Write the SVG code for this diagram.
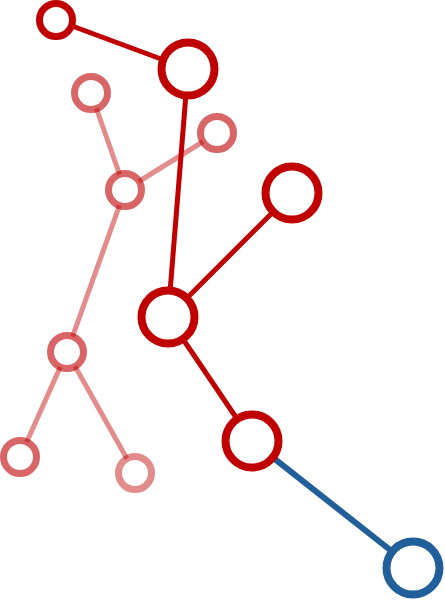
<svg xmlns="http://www.w3.org/2000/svg" width="445" height="600" viewBox="0 0 445 600">
<style>
.e{stroke-width:5;fill:none;stroke-linecap:butt}
.dk{stroke:#c00000}
.lt{stroke:#c00000;stroke-opacity:0.45}
.bl{stroke:#215f9a;stroke-width:6}
.n{fill:#fff}
.big{stroke-width:8}
.sm{stroke-width:7}
.nd{stroke:#c00000}
.nl{stroke:#c00000;stroke-opacity:0.6}
.nh{stroke:#c00000;stroke-opacity:0.45}
.nb{stroke:#215f9a}
</style>
<rect width="445" height="600" fill="#fff"/>
<g id="connectors">
<line class="e lt" x1="91" y1="93" x2="125" y2="190"/>
<line class="e lt" x1="125" y1="190" x2="217" y2="133"/>
<line class="e lt" x1="125" y1="190" x2="67" y2="352"/>
<line class="e lt" x1="67" y1="352" x2="20" y2="457"/>
<line class="e lt" x1="67" y1="352" x2="135" y2="473"/>
<line class="e dk" x1="56" y1="20" x2="188" y2="69"/>
<line class="e dk" x1="188" y1="69" x2="168" y2="317"/>
<line class="e dk" x1="168" y1="317" x2="292" y2="193"/>
<line class="e dk" x1="168" y1="317" x2="252" y2="441"/>
<line class="e bl" x1="252" y1="441" x2="413" y2="568"/>
</g>
<g id="node-c"><circle class="n sm nl" cx="91" cy="93" r="16.5"/></g>
<g id="node-d"><circle class="n sm nl" cx="217" cy="133" r="16.5"/></g>
<g id="node-e"><circle class="n sm nl" cx="125" cy="190" r="16.5"/></g>
<g id="node-f"><circle class="n sm nl" cx="67" cy="352" r="16.5"/></g>
<g id="node-g"><circle class="n sm nl" cx="20" cy="457" r="16.5"/></g>
<g id="node-h"><circle class="n sm nh" cx="135" cy="473" r="16.5"/></g>
<g id="node-a"><circle class="n sm nd" cx="56" cy="20" r="16.5"/></g>
<g id="node-b"><circle class="n big nd" cx="188" cy="69" r="26.5"/></g>
<g id="node-i"><circle class="n big nd" cx="292" cy="193" r="26.5"/></g>
<g id="node-j"><circle class="n big nd" cx="168" cy="317" r="26.5"/></g>
<g id="node-k"><circle class="n big nd" cx="252" cy="441" r="26.5"/></g>
<g id="node-l"><circle class="n big nb" cx="413" cy="568" r="26.5"/></g>
</svg>
